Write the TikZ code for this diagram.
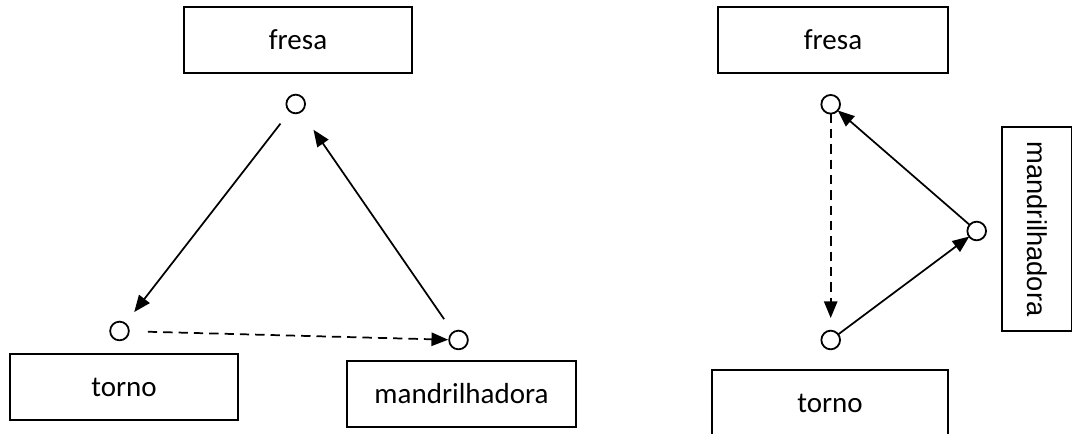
\documentclass[tikz,border=0pt]{standalone}
\usepackage{fontspec}
\setmainfont{Carlito}
\newfontfamily\rotfont{Liberation Sans}
\usetikzlibrary{arrows.meta}
\begin{document}
\begin{tikzpicture}[x=0.75pt,y=-0.75pt,
  box/.style={draw,line width=1.5pt,minimum width=171pt,minimum height=49.5pt,inner sep=0pt,font=\fontsize{21.75}{26}\selectfont},
  dot/.style={circle,draw,line width=1.35pt,minimum size=14pt,inner sep=0pt,outer sep=0pt},
  arr/.style={line width=1.3pt,-{Triangle[length=12.5pt,width=10pt]}},
  dsh/.style={arr,dash pattern=on 7pt off 4.5pt}]
\useasboundingbox (0,0) rectangle (1072,434);
\clip (0,0) rectangle (1072,434);
% left diagram
\node[box] (fresaL) at (298,40) {fresa};
\node[box] (tornoL) at (124,387) {torno};
\node[box,minimum width=172pt] (mandL) at (461.5,394) {mandrilhadora};
\node[dot] (cF1) at (295.7,104) {};
\node[dot] (cT1) at (119.5,331) {};
\node[dot] (cM1) at (458.5,340) {};
\draw[arr,shorten <=11.6pt,shorten >=11pt] (cF1) -- (cT1);
\draw[arr,shorten <=12pt,shorten >=16.5pt] (cM1) -- (cF1);
\draw[dsh,shorten <=14.3pt,shorten >=0.75pt] (cT1) -- (cM1);
% right diagram
\node[box,minimum width=172.5pt] (fresaR) at (833,40) {fresa};
\node[box,minimum width=177pt] (tornoR) at (830,403) {torno};
\node[box,rotate=-90,minimum width=153pt,minimum height=52.5pt,font=\rotfont\fontsize{20.5}{24}\selectfont] (mandR) at (1037,229) {mandrilhadora};
\node[dot] (cF2) at (830.7,104.3) {};
\node[dot] (cT2) at (830.7,340) {};
\node[dot] (cM2) at (976.7,231) {};
\draw[dsh,shorten >=9.5pt] (cF2) -- (cT2);
\draw[arr] (cT2) -- (cM2);
\draw[arr] (cM2) -- (cF2);
\end{tikzpicture}
\end{document}
